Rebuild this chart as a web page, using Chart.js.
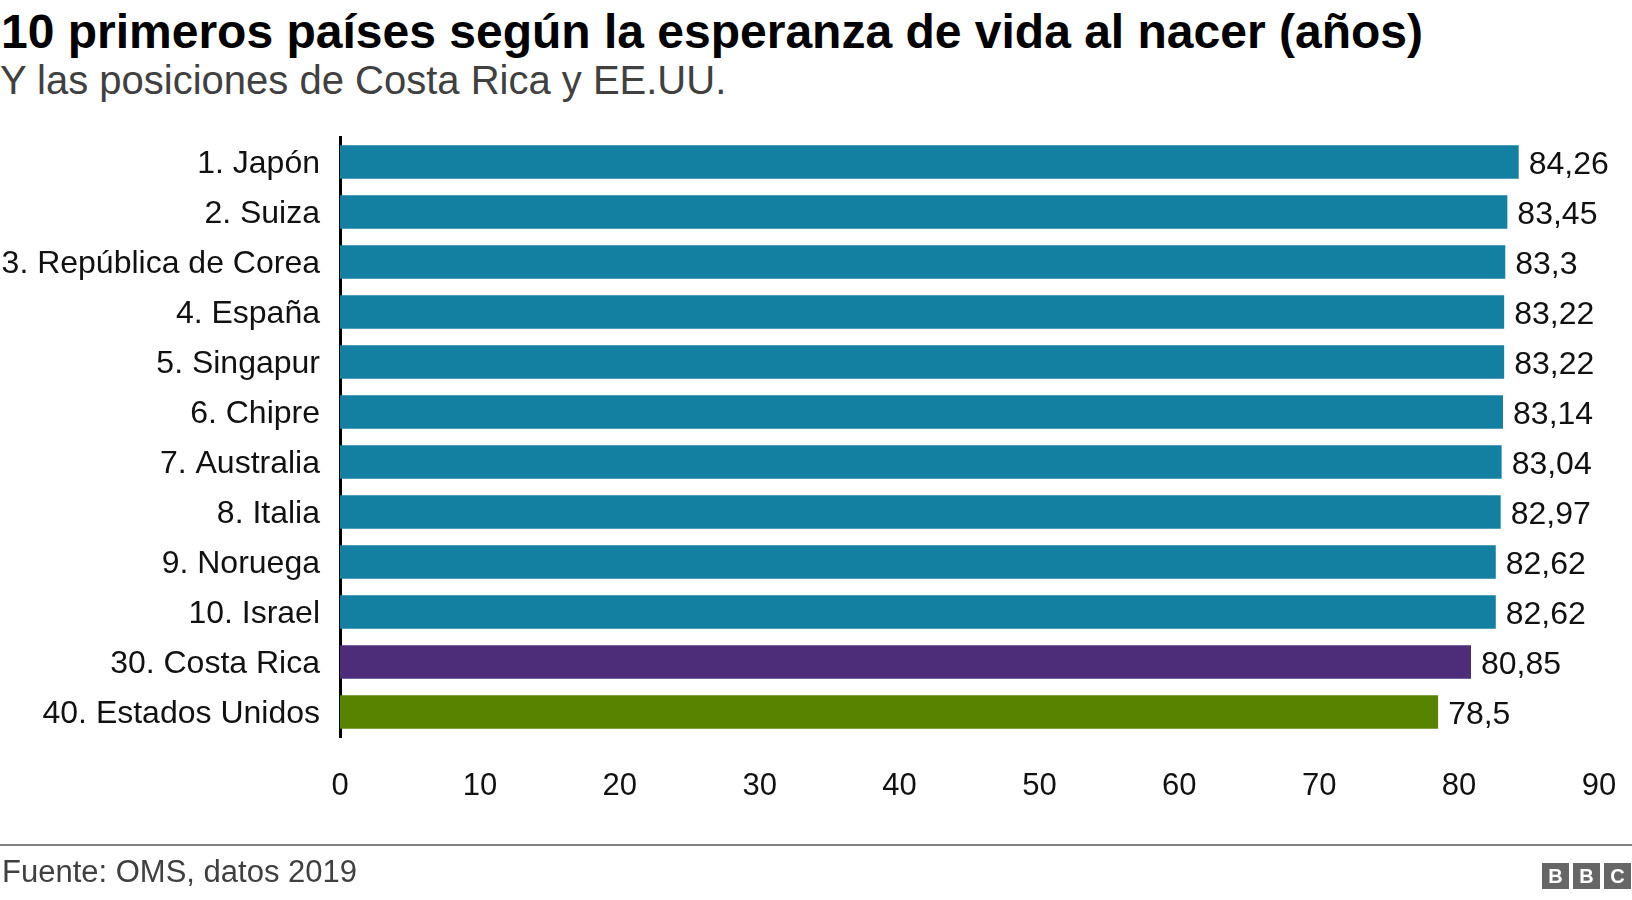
<!DOCTYPE html>
<html>
<head>
<meta charset="utf-8">
<script src="https://cdn.jsdelivr.net/npm/chart.js@4"></script>
<style>
  html, body { margin: 0; padding: 0; background: #fff; }
  body { width: 1632px; height: 900px; position: relative; overflow: hidden; font-family: "Liberation Sans", Arial, sans-serif; }
  #chart { position: absolute; left: 0; top: 0; }
  .title { position: absolute; left: 1px; top: 4px; font-size: 48px; font-weight: bold; color: #000; white-space: nowrap; }
  .subtitle { position: absolute; left: 0; top: 58px; font-size: 40px; color: #404040; white-space: nowrap; }
  .rule { position: absolute; left: 0; top: 844px; width: 1632px; height: 2px; background: #7f7f7f; }
  .source { position: absolute; left: 2px; top: 854px; font-size: 31px; color: #404040; white-space: nowrap; }
  .logo { position: absolute; left: 1542px; top: 863px; display: flex; gap: 4px; }
  .logo span { width: 27px; height: 26px; background: #666; color: #fff; font: bold 20px "Liberation Sans", Arial, sans-serif; display: flex; align-items: center; justify-content: center; }
</style>
</head>
<body>
<div class="title">10 primeros países según la esperanza de vida al nacer (años)</div>
<div class="subtitle">Y las posiciones de Costa Rica y EE.UU.</div>
<canvas id="chart" width="1632" height="900"></canvas>
<div class="rule"></div>
<div class="source">Fuente: OMS, datos 2019</div>
<div class="logo"><span>B</span><span>B</span><span>C</span></div>
<script>
// Data
const countries = [
    '1. Japón', '2. Suiza', '3. República de Corea', '4. España', '5. Singapur',
    '6. Chipre', '7. Australia', '8. Italia', '9. Noruega', '10. Israel',
    '30. Costa Rica', '40. Estados Unidos'
];
const lifeExpectancy = [84.26, 83.45, 83.3, 83.22, 83.22, 83.14, 83.04, 82.97, 82.62, 82.62, 80.85, 78.5];
const xTicks = [0, 10, 20, 30, 40, 50, 60, 70, 80, 90];

// Bar colours: top 10 teal, Costa Rica purple, USA green
const barColors = countries.map((c, i) => i < 10 ? '#1380a1' : (i === 10 ? '#4d2c7a' : '#588300'));

const labelFont = '32px "Liberation Sans", Arial, sans-serif';

// Draws the value at the end of each bar, with a decimal comma
const valueLabels = {
    id: 'valueLabels',
    afterDatasetsDraw(chart) {
        const ctx = chart.ctx;
        const meta = chart.getDatasetMeta(0);
        ctx.save();
        ctx.font = labelFont;
        ctx.fillStyle = '#111';
        ctx.textAlign = 'left';
        ctx.textBaseline = 'middle';
        meta.data.forEach((bar, i) => {
            const txt = String(lifeExpectancy[i]).replace('.', ',');
            ctx.fillText(txt, bar.x + 10, bar.y + 3);
        });
        ctx.restore();
    }
};

const ctx = document.getElementById('chart').getContext('2d');
new Chart(ctx, {
    type: 'bar',
    data: {
        labels: countries,
        datasets: [{
            data: lifeExpectancy,
            backgroundColor: barColors,
            barPercentage: 0.67,
            categoryPercentage: 1
        }]
    },
    options: {
        indexAxis: 'y',
        responsive: false,
        animation: false,
        layout: { padding: { top: 137, right: 33, bottom: 93, left: 0 } },
        plugins: {
            legend: { display: false },
            tooltip: { enabled: false }
        },
        scales: {
            x: {
                min: 0,
                max: 90,
                afterFit(scale) {
                    scale.height = 70;
                    scale.paddingLeft = 0;
                    scale.paddingRight = 0;
                },
                afterBuildTicks(scale) { scale.ticks = xTicks.map(v => ({ value: v })); },
                grid: { display: false, drawTicks: false },
                border: { display: false },
                ticks: {
                    padding: 31,
                    color: '#111',
                    font: { family: '"Liberation Sans", Arial, sans-serif', size: 31 }
                }
            },
            y: {
                afterFit(scale) { scale.width = 340; },
                grid: { display: false, drawTicks: false },
                border: { display: true, color: '#000', width: 3 },
                ticks: {
                    padding: 20,
                    labelOffset: 2,
                    color: '#111',
                    font: { family: '"Liberation Sans", Arial, sans-serif', size: 32 }
                }
            }
        }
    },
    plugins: [valueLabels]
});
</script>
</body>
</html>
